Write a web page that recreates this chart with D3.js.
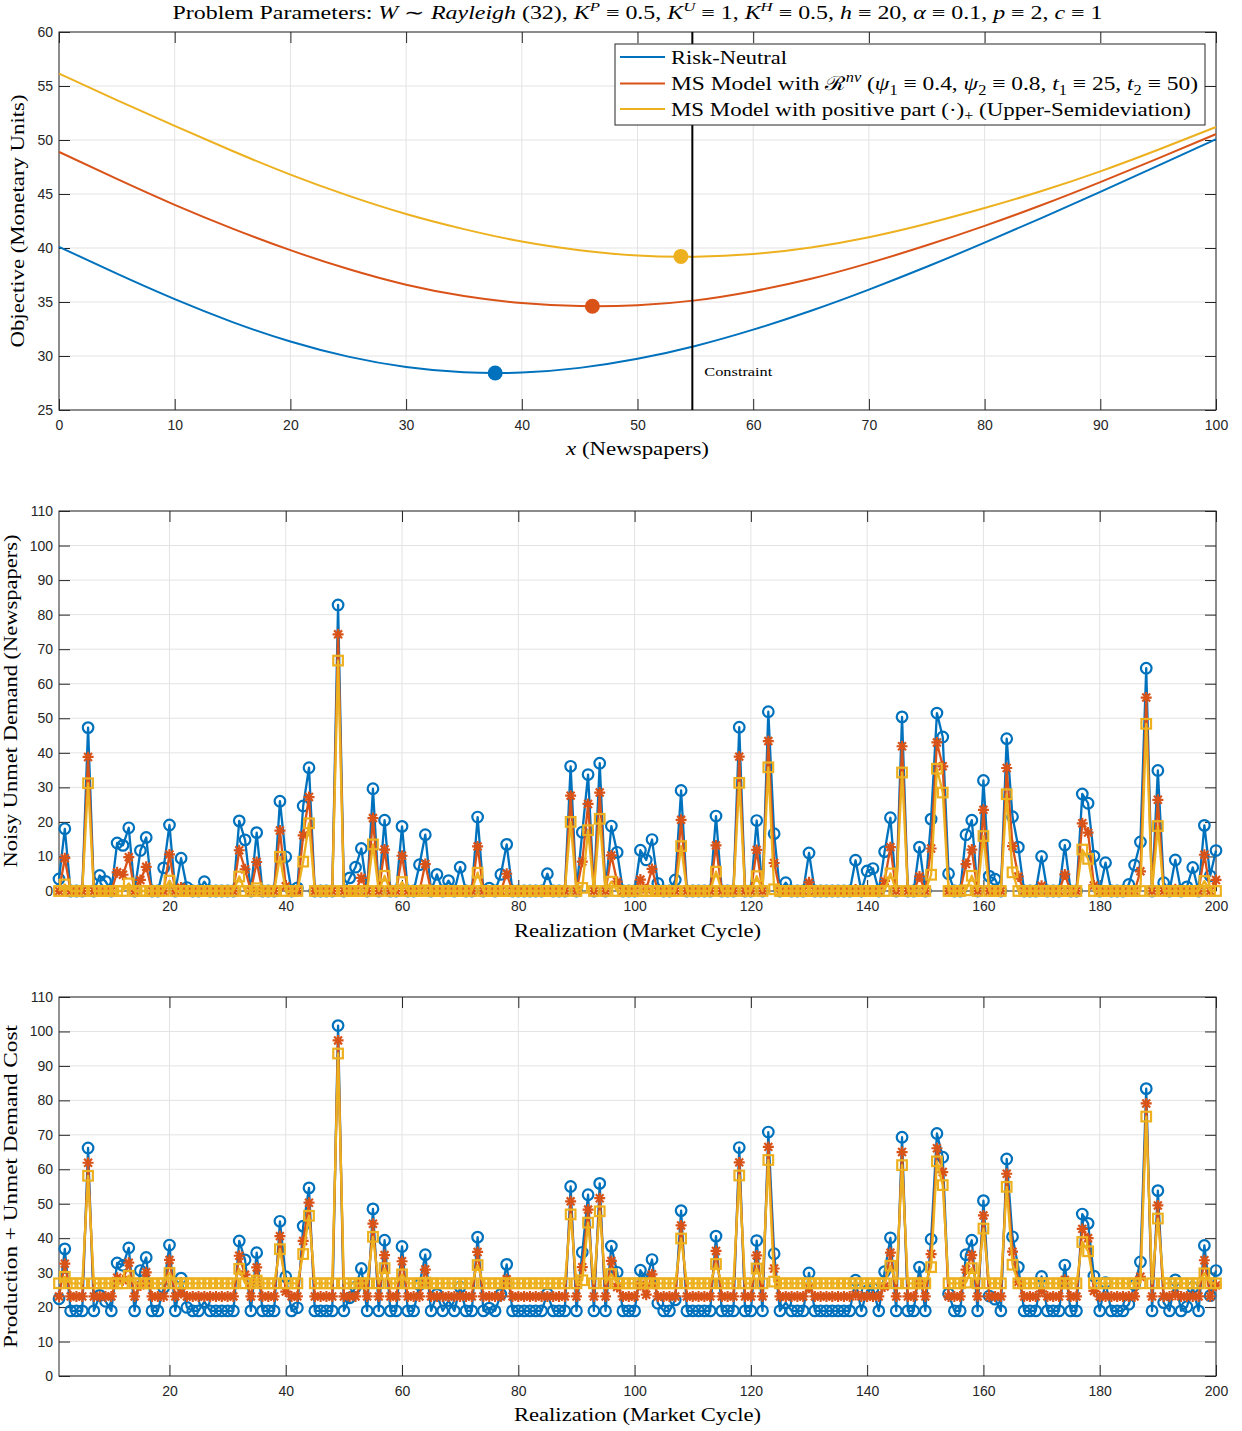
<!DOCTYPE html>
<html><head><meta charset="utf-8">
<script src="https://cdn.jsdelivr.net/npm/d3@7"></script>
<style>body{margin:0;background:#fff} svg{display:block}</style>
</head><body><svg id="c" width="1242" height="1431"></svg>
<script>
// ---------------- DATA ----------------
const seriesNames = ["Risk-Neutral", "MS Model nv", "MS Model positive part"];
const seriesColors = ["#0072BD", "#D95319", "#EDB120"];

// Top panel: objective vs x
const topX = [0,5,10,15,20,25,30,35,40,45,50,55,60,65,70,75,80,85,90,95,100];
const topRiskNeutral = [40.11,37.62,35.26,33.14,31.34,29.94,28.98,28.49,28.47,28.90,29.74,30.93,32.44,34.19,36.15,38.26,40.50,42.82,45.20,47.62,50.07];
const topMSnv = [48.9,46.4,44.0,41.8,39.8,38.05,36.6,35.55,34.9,34.62,34.7,35.15,36.0,37.15,38.6,40.25,42.05,44.0,46.1,48.3,50.55];
const topMSplus = [56.15,53.7,51.3,48.98,46.8,44.85,43.15,41.75,40.6,39.8,39.3,39.2,39.45,40.05,41.0,42.25,43.7,45.3,47.1,49.1,51.2];
const optimumX = [37.7, 46.1, 53.75];
const optimumY = [28.43, 34.6, 39.22];
const constraintX = 54.74;
const topXTicks = [0,10,20,30,40,50,60,70,80,90,100];
const topYTicks = [25,30,35,40,45,50,55,60];

// Realizations
const realization = d3.range(1, 201);
const realXTicks = [20,40,60,80,100,120,140,160,180,200];
const realYTicks = [0,10,20,30,40,50,60,70,80,90,100,110];

// Middle panel: noisy unmet demand
const unmetRN = [3.5,18.0,0,0,0,47.3,0,4.5,2.8,0,
13.9,13.2,18.3,0,11.7,15.5,0,0,6.7,19.1,
0,9.5,1.0,0,0,2.7,0,0,0,0,
0,20.3,14.8,0,16.9,0,0,0,26.0,9.9,
0,0.9,24.6,35.7,0,0,0,0,82.8,0,
3.8,6.9,12.3,0,29.6,0,20.5,0,0,18.7,
0,0,7.6,16.3,0,4.8,0,3.0,0,6.9,
0,0,21.4,0,0.8,0,4.8,13.5,0,0,
0,0,0,0,5.0,0,0,0,36.1,0,
17.0,33.7,0,37.0,0,18.8,11.2,0,0,0,
11.8,9.0,14.9,2.2,0,0,3.2,29.1,0,0,
0,0,0,21.7,0,0,0,47.4,0,0,
20.4,0,51.9,16.6,0,2.4,0,0,0,11.0,
0,0,0,0,0,0,0,8.9,0,5.8,
6.5,0,11.4,21.2,0,50.4,0,0,12.7,0,
20.8,51.5,44.6,5.0,0,0,16.3,20.5,0,32.0,
4.3,3.4,0,44.1,21.5,12.7,0,0,0,10.0,
0,0,0,13.3,0,0,28.1,25.4,10.1,0,
8.2,0,0,0,1.9,7.5,14.2,64.5,0,34.9,
2.4,0,9.0,0,1.2,6.8,0,19.0,4.4,11.7];
const unmetNV = [0,9.5,0,0,0,38.8,0,0,0,0,
5.4,4.7,9.8,0,3.2,7.0,0,0,0,10.6,
0,1.0,0,0,0,0,0,0,0,0,
0,11.8,6.3,0,8.4,0,0,0,17.5,1.4,
0,0,16.1,27.2,0,0,0,0,74.3,0,
0,0,3.8,0,21.1,0,12.0,0,0,10.2,
0,0,0,7.8,0,0,0,0,0,0,
0,0,12.9,0,0,0,0,5.0,0,0,
0,0,0,0,0,0,0,0,27.6,0,
8.5,25.2,0,28.5,0,10.3,2.7,0,0,0,
3.3,0.5,6.4,0,0,0,0,20.6,0,0,
0,0,0,13.2,0,0,0,38.9,0,0,
11.9,0,43.4,8.1,0,0,0,0,0,2.5,
0,0,0,0,0,0,0,0.4,0,0,
0,0,2.9,12.7,0,41.9,0,0,4.2,0,
12.3,43.0,36.1,0,0,0,7.8,12.0,0,23.5,
0,0,0,35.6,13.0,4.2,0,0,0,1.5,
0,0,0,4.8,0,0,19.6,16.9,1.6,0,
0,0,0,0,0,0,5.7,56.0,0,26.4,
0,0,0.5,0,0,0,0,10.5,0,3.2];
const unmetUS = [0,1.9,0,0,0,31.2,0,0,0,0,
0,0,2.2,0,0,0,0,0,0,3.0,
0,0,0,0,0,0,0,0,0,0,
0,4.2,0,0,0.8,0,0,0,9.9,0,
0,0,8.5,19.6,0,0,0,0,66.7,0,
0,0,0,0,13.5,0,4.4,0,0,2.6,
0,0,0,0.2,0,0,0,0,0,0,
0,0,5.3,0,0,0,0,0,0,0,
0,0,0,0,0,0,0,0,20.0,0,
0.9,17.6,0,20.9,0,2.7,0,0,0,0,
0,0,0,0,0,0,0,13.0,0,0,
0,0,0,5.6,0,0,0,31.3,0,0,
4.3,0,35.8,0.5,0,0,0,0,0,0,
0,0,0,0,0,0,0,0,0,0,
0,0,0,5.1,0,34.3,0,0,0,0,
4.7,35.4,28.5,0,0,0,0.2,4.4,0,15.9,
0,0,0,28.0,5.4,0,0,0,0,0,
0,0,0,0,0,0,12.0,9.3,0,0,
0,0,0,0,0,0,0,48.4,0,18.8,
0,0,0,0,0,0,0,2.9,0,0];

// Bottom panel: production + unmet demand cost
const costRN = [22.4,36.9,18.9,18.9,18.9,66.2,18.9,23.4,21.7,18.9,
32.8,32.1,37.2,18.9,30.6,34.4,18.9,18.9,25.6,38.0,
18.9,28.4,19.9,18.9,18.9,21.6,18.9,18.9,18.9,18.9,
18.9,39.2,33.7,18.9,35.8,18.9,18.9,18.9,44.9,28.8,
18.9,19.8,43.5,54.6,18.9,18.9,18.9,18.9,101.7,18.9,
22.7,25.8,31.2,18.9,48.5,18.9,39.4,18.9,18.9,37.6,
18.9,18.9,26.5,35.2,18.9,23.7,18.9,21.9,18.9,25.8,
18.9,18.9,40.3,18.9,19.7,18.9,23.7,32.4,18.9,18.9,
18.9,18.9,18.9,18.9,23.9,18.9,18.9,18.9,55.0,18.9,
35.9,52.6,18.9,55.9,18.9,37.7,30.1,18.9,18.9,18.9,
30.7,27.9,33.8,21.1,18.9,18.9,22.1,48.0,18.9,18.9,
18.9,18.9,18.9,40.6,18.9,18.9,18.9,66.3,18.9,18.9,
39.3,18.9,70.8,35.5,18.9,21.3,18.9,18.9,18.9,29.9,
18.9,18.9,18.9,18.9,18.9,18.9,18.9,27.8,18.9,24.7,
25.4,18.9,30.3,40.1,18.9,69.3,18.9,18.9,31.6,18.9,
39.7,70.4,63.5,23.9,18.9,18.9,35.2,39.4,18.9,50.9,
23.2,22.3,18.9,63.0,40.4,31.6,18.9,18.9,18.9,28.9,
18.9,18.9,18.9,32.2,18.9,18.9,47.0,44.3,29.0,18.9,
27.1,18.9,18.9,18.9,20.8,26.4,33.1,83.4,18.9,53.8,
21.3,18.9,27.9,18.9,20.1,25.7,18.9,37.9,23.3,30.6];
const costNV = [23.1,32.6,23.1,23.1,23.1,61.9,23.1,23.1,23.1,23.1,
28.5,27.8,32.9,23.1,26.3,30.1,23.1,23.1,23.1,33.7,
23.1,24.1,23.1,23.1,23.1,23.1,23.1,23.1,23.1,23.1,
23.1,34.9,29.4,23.1,31.5,23.1,23.1,23.1,40.6,24.5,
23.1,23.1,39.2,50.3,23.1,23.1,23.1,23.1,97.4,23.1,
23.1,23.1,26.9,23.1,44.2,23.1,35.1,23.1,23.1,33.3,
23.1,23.1,23.1,30.9,23.1,23.1,23.1,23.1,23.1,23.1,
23.1,23.1,36.0,23.1,23.1,23.1,23.1,28.1,23.1,23.1,
23.1,23.1,23.1,23.1,23.1,23.1,23.1,23.1,50.7,23.1,
31.6,48.3,23.1,51.6,23.1,33.4,25.8,23.1,23.1,23.1,
26.4,23.6,29.5,23.1,23.1,23.1,23.1,43.7,23.1,23.1,
23.1,23.1,23.1,36.3,23.1,23.1,23.1,62.0,23.1,23.1,
35.0,23.1,66.5,31.2,23.1,23.1,23.1,23.1,23.1,25.6,
23.1,23.1,23.1,23.1,23.1,23.1,23.1,23.5,23.1,23.1,
23.1,23.1,26.0,35.8,23.1,65.0,23.1,23.1,27.3,23.1,
35.4,66.1,59.2,23.1,23.1,23.1,30.9,35.1,23.1,46.6,
23.1,23.1,23.1,58.7,36.1,27.3,23.1,23.1,23.1,24.6,
23.1,23.1,23.1,27.9,23.1,23.1,42.7,40.0,24.7,23.1,
23.1,23.1,23.1,23.1,23.1,23.1,28.8,79.1,23.1,49.5,
23.1,23.1,23.6,23.1,23.1,23.1,23.1,33.6,23.1,26.3];
const costUS = [26.9,28.8,26.9,26.9,26.9,58.1,26.9,26.9,26.9,26.9,
26.9,26.9,29.1,26.9,26.9,26.9,26.9,26.9,26.9,29.9,
26.9,26.9,26.9,26.9,26.9,26.9,26.9,26.9,26.9,26.9,
26.9,31.1,26.9,26.9,27.7,26.9,26.9,26.9,36.8,26.9,
26.9,26.9,35.4,46.5,26.9,26.9,26.9,26.9,93.6,26.9,
26.9,26.9,26.9,26.9,40.4,26.9,31.3,26.9,26.9,29.5,
26.9,26.9,26.9,27.1,26.9,26.9,26.9,26.9,26.9,26.9,
26.9,26.9,32.2,26.9,26.9,26.9,26.9,26.9,26.9,26.9,
26.9,26.9,26.9,26.9,26.9,26.9,26.9,26.9,46.9,26.9,
27.8,44.5,26.9,47.8,26.9,29.6,26.9,26.9,26.9,26.9,
26.9,26.9,26.9,26.9,26.9,26.9,26.9,39.9,26.9,26.9,
26.9,26.9,26.9,32.5,26.9,26.9,26.9,58.2,26.9,26.9,
31.2,26.9,62.7,27.4,26.9,26.9,26.9,26.9,26.9,26.9,
26.9,26.9,26.9,26.9,26.9,26.9,26.9,26.9,26.9,26.9,
26.9,26.9,26.9,32.0,26.9,61.2,26.9,26.9,26.9,26.9,
31.6,62.3,55.4,26.9,26.9,26.9,27.1,31.3,26.9,42.8,
26.9,26.9,26.9,54.9,32.3,26.9,26.9,26.9,26.9,26.9,
26.9,26.9,26.9,26.9,26.9,26.9,38.9,36.2,26.9,26.9,
26.9,26.9,26.9,26.9,26.9,26.9,26.9,75.3,26.9,45.7,
26.9,26.9,26.9,26.9,26.9,26.9,26.9,29.8,26.9,26.9];

// ---------------- DRAWING ----------------
const svg = d3.select("#c");
const AX = "#262626", GRID = "#e3e3e3";
const SANS = "'Liberation Sans', Arial, Helvetica, sans-serif";
const SERIF = "'Liberation Serif', 'Times New Roman', serif";
const L = 59, R = 1216;

function rich(sel, segs, fs) {
  let shift = 0;
  segs.forEach(s => {
    const t = sel.append("tspan").text(s.t);
    if (s.i) t.attr("font-style", "italic");
    if (shift) { t.attr("dy", -shift); shift = 0; }
    if (s.sup !== undefined) {
      const d = -0.42 * fs;
      sel.append("tspan").text(s.sup).attr("font-size", fs * 0.7).attr("dy", d).attr("font-style", s.si ? "italic" : null);
      shift = d;
    }
    if (s.sub !== undefined) {
      const d = 0.25 * fs;
      sel.append("tspan").text(s.sub).attr("font-size", fs * 0.7).attr("dy", d);
      shift = d;
    }
  });
}

function frame(g, x, y, box, xt, yt) {
  g.append("g").selectAll("line").data(xt).join("line")
    .attr("x1", d => x(d)).attr("x2", d => x(d)).attr("y1", box.t).attr("y2", box.b)
    .attr("stroke", GRID).attr("stroke-width", 1);
  g.append("g").selectAll("line").data(yt).join("line")
    .attr("y1", d => y(d)).attr("y2", d => y(d)).attr("x1", L).attr("x2", R)
    .attr("stroke", GRID).attr("stroke-width", 1);
  const tk = 11;
  const ax = (axis, tr, labels) => {
    const a = g.append("g").attr("transform", tr).call(axis);
    a.select(".domain").remove();
    a.selectAll("line").attr("stroke", AX);
    a.selectAll("text").attr("fill", AX).attr("font-family", SANS).attr("font-size", 14);
    if (!labels) a.selectAll("text").remove();
    return a;
  };
  ax(d3.axisBottom(x).tickValues(xt).tickSize(-tk).tickPadding(10).tickFormat(d3.format("d")), `translate(0,${box.b})`, true);
  ax(d3.axisTop(x).tickValues(xt).tickSize(-tk), `translate(0,${box.t})`, false);
  ax(d3.axisLeft(y).tickValues(yt).tickSize(-tk).tickPadding(6).tickFormat(d3.format("d")), `translate(${L},0)`, true);
  ax(d3.axisRight(y).tickValues(yt).tickSize(-tk), `translate(${R},0)`, false);
  g.append("rect").attr("x", L).attr("y", box.t).attr("width", R - L).attr("height", box.b - box.t)
    .attr("fill", "none").attr("stroke", AX).attr("stroke-width", 1);
}

function label(g, x, y, segs, fs, width, rot) {
  const t = g.append("text").attr("x", x).attr("y", y).attr("text-anchor", "middle")
    .attr("font-family", SERIF).attr("font-size", fs).attr("fill", "#000");
  if (rot) t.attr("transform", `rotate(-90,${x},${y})`);
  rich(t, segs, fs);
  if (width) t.attr("textLength", width).attr("lengthAdjust", "spacingAndGlyphs");
  return t;
}

// ---- Title
label(svg, 637.5, 19, [
  {t: "Problem Parameters: "}, {t: "W", i: 1}, {t: " \u223C "}, {t: "Rayleigh", i: 1}, {t: " (32), "},
  {t: "K", i: 1, sup: "P", si: 1}, {t: " \u2261 0.5, "}, {t: "K", i: 1, sup: "U", si: 1}, {t: " \u2261 1, "},
  {t: "K", i: 1, sup: "H", si: 1}, {t: " \u2261 0.5, "}, {t: "h", i: 1}, {t: " \u2261 20, "},
  {t: "\u03B1", i: 1}, {t: " \u2261 0.1, "}, {t: "p", i: 1}, {t: " \u2261 2, "}, {t: "c", i: 1}, {t: " \u2261 1"}
], 18.5, 930);

// ---- Panel 1
{
  const box = {t: 32, b: 410};
  const g = svg.append("g");
  const x = d3.scaleLinear().domain([0, 100]).range([L, R]);
  const y = d3.scaleLinear().domain([25, 60]).range([box.b, box.t]);
  frame(g, x, y, box, topXTicks, topYTicks);
  const line = d3.line().x((d, i) => x(topX[i])).y(d => y(d)).curve(d3.curveNatural);
  [topRiskNeutral, topMSnv, topMSplus].forEach((s, k) => {
    g.append("path").attr("d", line(s)).attr("fill", "none").attr("stroke", seriesColors[k]).attr("stroke-width", 2);
  });
  optimumX.forEach((ox, k) => {
    g.append("circle").attr("cx", x(ox)).attr("cy", y(optimumY[k])).attr("r", 7.5).attr("fill", seriesColors[k]);
  });
  g.append("line").attr("x1", x(constraintX)).attr("x2", x(constraintX)).attr("y1", box.t).attr("y2", box.b)
    .attr("stroke", "#000").attr("stroke-width", 2);
  g.append("text").attr("x", x(constraintX) + 12).attr("y", 376).attr("font-family", SERIF)
    .attr("font-size", 13).attr("textLength", 68).attr("lengthAdjust", "spacingAndGlyphs").text("Constraint");
  // legend
  const lg = g.append("g");
  lg.append("rect").attr("x", 615).attr("y", 44).attr("width", 590).attr("height", 81)
    .attr("fill", "#fff").attr("stroke", AX).attr("stroke-width", 1);
  const rows = [57, 83.5, 109];
  const legTexts = [
    [{t: "Risk-Neutral"}],
    [{t: "MS Model with "}, {t: "\u211B", sup: "nv", si: 1}, {t: " ("}, {t: "\u03C8", i: 1, sub: "1"}, {t: " \u2261 0.4, "},
     {t: "\u03C8", i: 1, sub: "2"}, {t: " \u2261 0.8, "}, {t: "t", i: 1, sub: "1"}, {t: " \u2261 25, "}, {t: "t", i: 1, sub: "2"}, {t: " \u2261 50)"}],
    [{t: "MS Model with positive part (\u00B7)", sub: "+"}, {t: " (Upper-Semideviation)"}]
  ];
  const legW = [116, 527, 520];
  rows.forEach((ry, k) => {
    lg.append("line").attr("x1", 620).attr("x2", 665).attr("y1", ry).attr("y2", ry)
      .attr("stroke", seriesColors[k]).attr("stroke-width", 2);
    const t = lg.append("text").attr("x", 671).attr("y", ry + 6.5).attr("font-family", SERIF)
      .attr("font-size", 19.5).attr("fill", "#000");
    rich(t, legTexts[k], 19.5);
    t.attr("textLength", legW[k]).attr("lengthAdjust", "spacingAndGlyphs");
  });
  label(svg, 637.5, 455, [{t: "x", i: 1}, {t: " (Newspapers)"}], 19.5, 143);
  label(svg, 24, 221, [{t: "Objective (Monetary Units)"}], 19.5, 253, true);
}

// ---- Panels 2 and 3
const asterisk = s => `M${-s},0L${s},0M0,${-s}L0,${s}M${-0.72*s},${-0.72*s}L${0.72*s},${0.72*s}M${-0.72*s},${0.72*s}L${0.72*s},${-0.72*s}`;
function realPanel(box, seriesList, ylab, ylabW, xlabY) {
  const g = svg.append("g");
  const x = d3.scaleLinear().domain([1, 200]).range([L, R]);
  const y = d3.scaleLinear().domain([0, 110]).range([box.b, box.t]);
  frame(g, x, y, box, realXTicks, realYTicks);
  const line = d3.line().x((d, i) => x(realization[i])).y(d => y(d));
  seriesList.forEach((s, k) => {
    const c = seriesColors[k];
    g.append("path").attr("d", line(s)).attr("fill", "none").attr("stroke", c).attr("stroke-width", 2.3).attr("stroke-linejoin", "round");
    const m = g.append("g");
    s.forEach((v, i) => {
      const cx = x(realization[i]), cy = y(v);
      if (k === 0) m.append("circle").attr("cx", cx).attr("cy", cy).attr("r", 5.3).attr("fill", "none").attr("stroke", c).attr("stroke-width", 2.2);
      else if (k === 1) m.append("path").attr("transform", `translate(${cx},${cy})`).attr("d", asterisk(5.5)).attr("fill", "none").attr("stroke", c).attr("stroke-width", 2.2);
      else m.append("rect").attr("x", cx - 4.8).attr("y", cy - 4.8).attr("width", 9.6).attr("height", 9.6).attr("fill", "none").attr("stroke", c).attr("stroke-width", 2.2);
    });
  });
  label(svg, 637.5, xlabY, [{t: "Realization (Market Cycle)"}], 19.5, 247);
  label(svg, 17, (box.t + box.b) / 2, [{t: ylab}], 19.5, ylabW, true);
}
realPanel({t: 511, b: 891}, [unmetRN, unmetNV, unmetUS], "Noisy Unmet Demand (Newspapers)", 333, 937);
realPanel({t: 997, b: 1376}, [costRN, costNV, costUS], "Production + Unmet Demand Cost", 323, 1421);
</script></body></html>
